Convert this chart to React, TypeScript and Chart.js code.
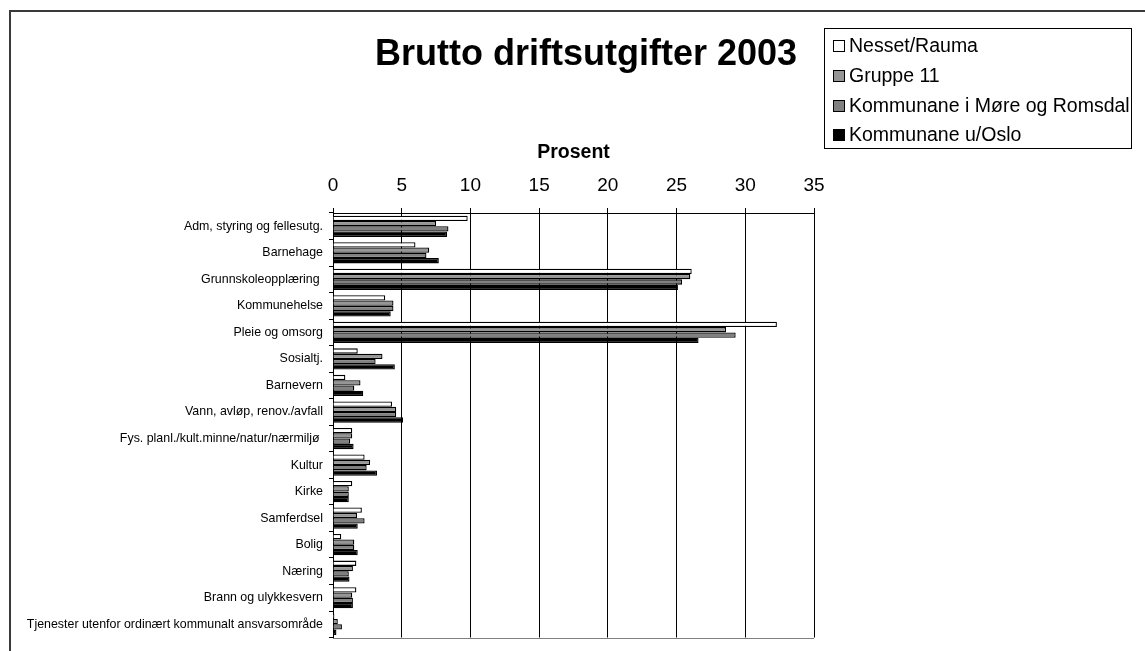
import React, { useEffect, useRef } from "react";
import { Chart, registerables } from "chart.js";

Chart.register(...registerables);

const categories = [
  "Adm, styring og fellesutg.",
  "Barnehage",
  "Grunnskoleopplæring ",
  "Kommunehelse",
  "Pleie og omsorg",
  "Sosialtj.",
  "Barnevern",
  "Vann, avløp, renov./avfall",
  "Fys. planl./kult.minne/natur/nærmiljø ",
  "Kultur",
  "Kirke",
  "Samferdsel",
  "Bolig",
  "Næring",
  "Brann og ulykkesvern",
  "Tjenester utenfor ordinært kommunalt ansvarsområde",
];

const seriesNames = [
  "Nesset/Rauma",
  "Gruppe 11",
  "Kommunane i Møre og Romsdal",
  "Kommunane u/Oslo",
];

const nessetRauma = [9.8, 6.0, 26.1, 3.8, 32.3, 1.8, 0.9, 4.3, 1.4, 2.3, 1.4, 2.1, 0.6, 1.7, 1.7, 0.1];
const gruppe11 = [7.5, 7.0, 26.0, 4.4, 28.6, 3.6, 2.0, 4.6, 1.4, 2.7, 1.15, 1.75, 1.55, 1.45, 1.4, 0.35];
const moreRomsdal = [8.4, 6.8, 25.4, 4.4, 29.3, 3.1, 1.55, 4.6, 1.25, 2.45, 1.15, 2.3, 1.55, 1.15, 1.45, 0.65];
const utanOslo = [8.3, 7.7, 25.1, 4.2, 26.6, 4.5, 2.2, 5.1, 1.5, 3.2, 1.15, 1.8, 1.8, 1.2, 1.45, 0.25];

const seriesColors = ["#ffffff", "#969696", "#808080", "#000000"];

const FONT = "'Liberation Sans', Arial, sans-serif";

export default function App() {
  const ref = useRef<HTMLCanvasElement | null>(null);

  useEffect(() => {
    document.body.style.margin = "0";
    const canvas = ref.current;
    if (!canvas) return;

    const decor = {
      id: "decor",
      beforeDraw(chart: any) {
        const ctx = chart.ctx;
        ctx.save();
        ctx.fillStyle = "#ffffff";
        ctx.fillRect(0, 0, chart.width, chart.height);
        ctx.restore();
      },
      afterDraw(chart: any) {
        const ctx = chart.ctx;
        const area = chart.chartArea;
        ctx.save();
        // outer frame
        ctx.strokeStyle = "#3a3a3a";
        ctx.lineWidth = 2;
        ctx.beginPath();
        ctx.moveTo(10, chart.height + 5);
        ctx.lineTo(10, 11);
        ctx.lineTo(chart.width + 5, 11);
        ctx.stroke();

        // plot bottom border
        ctx.strokeStyle = "#808080";
        ctx.lineWidth = 1;
        ctx.beginPath();
        ctx.moveTo(area.left, Math.round(area.bottom) + 0.5);
        ctx.lineTo(area.right, Math.round(area.bottom) + 0.5);
        ctx.stroke();

        // title
        ctx.fillStyle = "#000";
        ctx.font = `bold 36px ${FONT}`;
        ctx.textAlign = "center";
        ctx.textBaseline = "alphabetic";
        ctx.fillText("Brutto driftsutgifter 2003", 586, 65);

        // axis title
        ctx.font = `bold 19.5px ${FONT}`;
        ctx.fillText("Prosent", (area.left + area.right) / 2, 158);

        // legend
        ctx.strokeStyle = "#000";
        ctx.lineWidth = 1;
        ctx.strokeRect(824.5, 28.5, 307, 120);
        ctx.font = `19.5px ${FONT}`;
        ctx.textAlign = "left";
        ctx.textBaseline = "middle";
        const rows = [46, 76, 106, 135];
        seriesNames.forEach((name, i) => {
          const cy = rows[i];
          ctx.fillStyle = seriesColors[i];
          ctx.fillRect(833, cy - 6, 12, 12);
          ctx.strokeStyle = "#000";
          ctx.strokeRect(833.5, cy - 5.5, 11, 11);
          ctx.fillStyle = "#000";
          ctx.fillText(name, 849, cy + 1);
        });
        ctx.restore();
      },
    };

    const chart = new Chart(canvas, {
      type: "bar",
      data: {
        labels: categories,
        datasets: [nessetRauma, gruppe11, moreRomsdal, utanOslo].map((d, i) => ({
          label: seriesNames[i],
          data: d,
          backgroundColor: seriesColors[i],
          borderColor: "#000",
          borderWidth: 1.3,
          barPercentage: 1,
          categoryPercentage: 0.8,
        })),
      },
      options: {
        indexAxis: "y",
        animation: false,
        responsive: false,
        devicePixelRatio: 1,
        layout: { padding: { left: 0, top: 0, right: 331, bottom: 8 } },
        plugins: {
          legend: { display: false },
          title: { display: false },
          tooltip: { enabled: false },
        },
        scales: {
          x: {
            position: "top",
            min: 0,
            max: 35,
            ticks: {
              stepSize: 5,
              color: "#000",
              font: { family: FONT, size: 19 },
              padding: 11,
            },
            grid: {
              color: "#000",
              lineWidth: 1,
              tickLength: 5,
              drawTicks: true,
            },
            border: { display: true, color: "#000", width: 1 },
            afterFit: (scale: any) => {
              scale.height = 213;
            },
          },
          y: {
            ticks: {
              color: "#000",
              font: { family: FONT, size: 12.4 },
              padding: 6,
              autoSkip: false,
            },
            grid: {
              display: true,
              drawOnChartArea: false,
              offset: true,
              tickLength: 4,
              color: "#000",
            },
            border: { display: true, color: "#000", width: 1 },
            afterFit: (scale: any) => {
              scale.width = 333;
            },
          },
        },
      },
      plugins: [decor],
    });

    return () => {
      chart.destroy();
    };
  }, []);

  return (
    <div style={{ position: "absolute", left: 0, top: 0, width: 1145, height: 651 }}>
      <canvas ref={ref} width={1145} height={651} style={{ display: "block" }} />
    </div>
  );
}
